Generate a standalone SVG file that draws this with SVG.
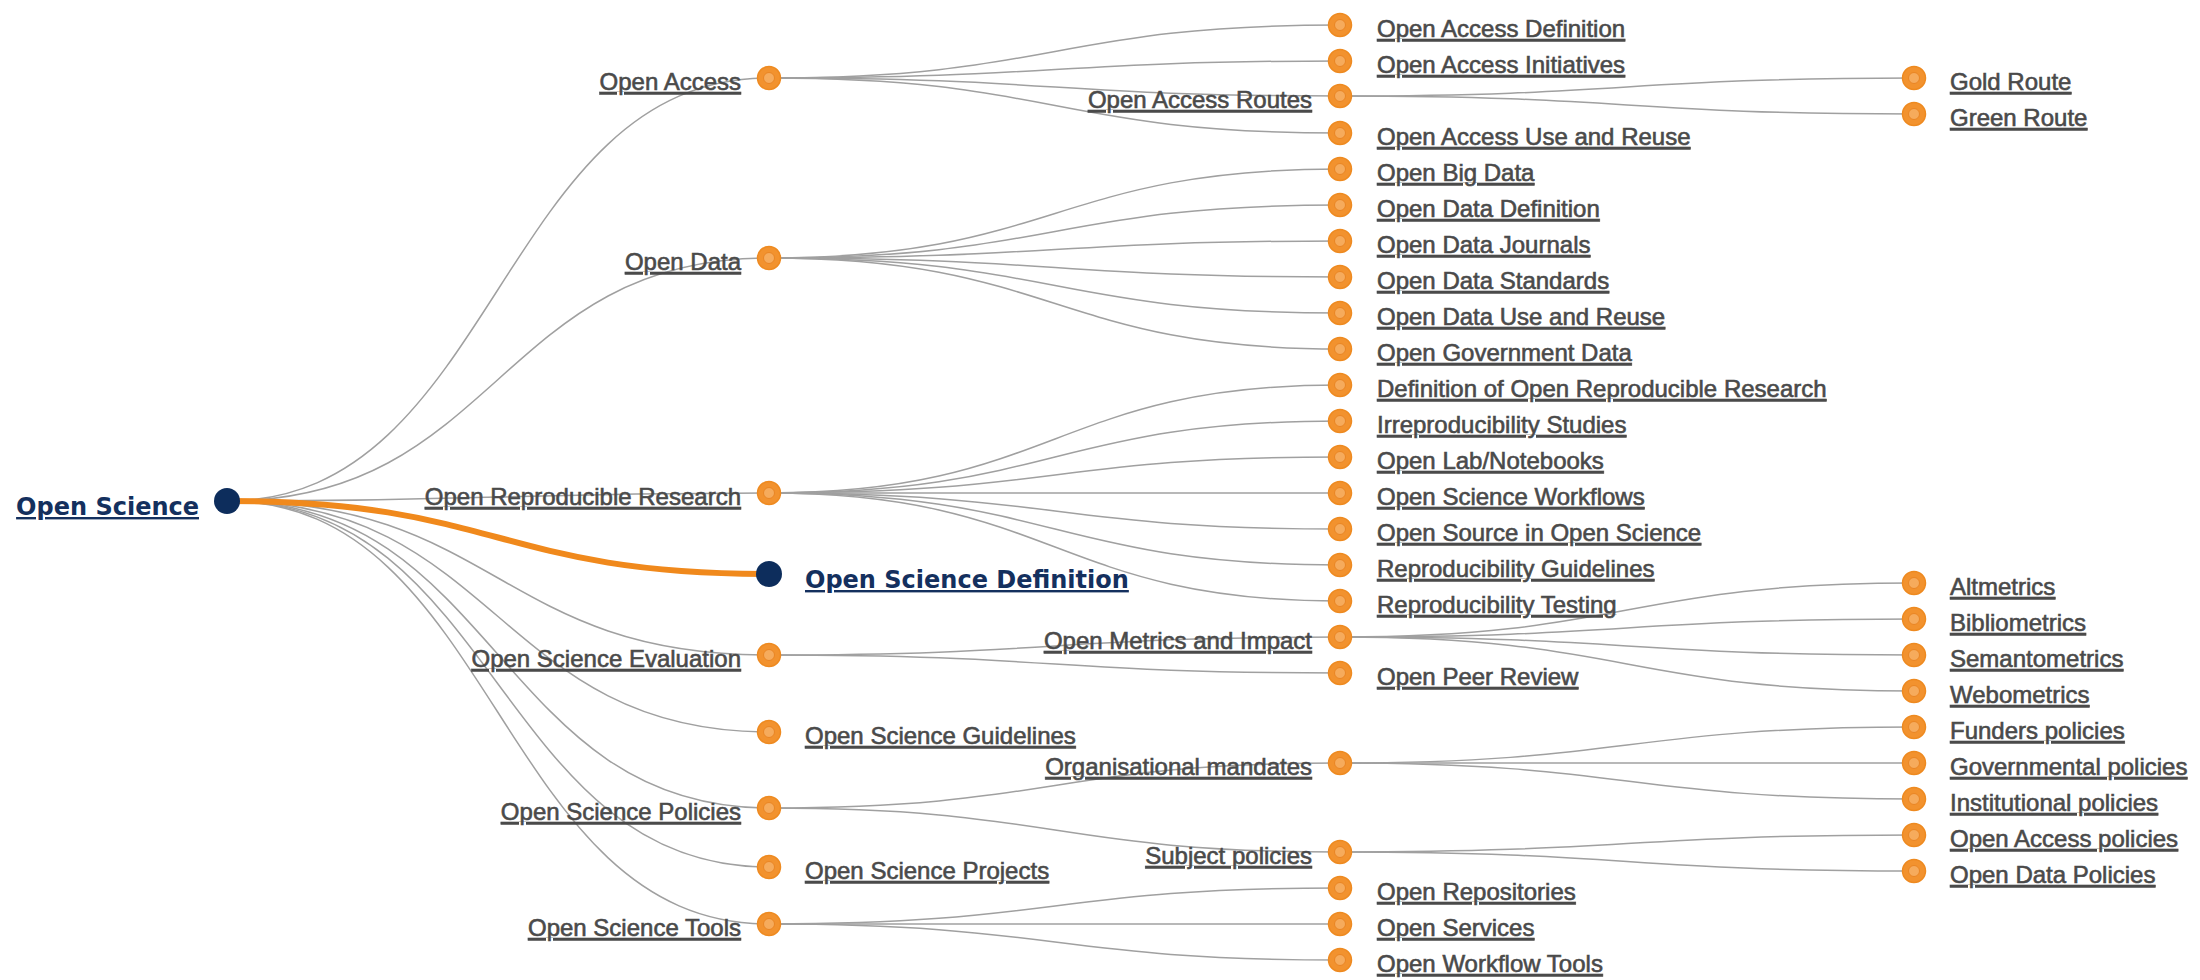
<svg xmlns="http://www.w3.org/2000/svg" width="2200" height="980" viewBox="0 0 2200 980">
<style>
.link{fill:none;stroke:#a0a0a0;stroke-width:1.5}
.hl{fill:none;stroke:#f0891c;stroke-width:6}
.lbl{font-family:"Liberation Sans",Arial,sans-serif;font-size:24px;fill:#4a4a4a;stroke:#4a4a4a;stroke-width:0.6;text-decoration:underline}
.main{font-family:"DejaVu Sans",Verdana,sans-serif;font-size:24px;font-weight:bold;fill:#14305e;text-decoration:underline}
.l{text-anchor:end}
.dot{fill:#0d2d5c}
.o1{fill:#f2922e;stroke:#ee8a20;stroke-width:1.5}
.o2{fill:#f6ab5c;stroke:#ea8524;stroke-width:1}
</style>
<defs>
<g id="od"><circle r="11.5" class="o1"/><circle r="5.5" class="o2"/></g>
</defs>
<rect width="2200" height="980" fill="#fff"/>
<g id="connectors">
<path class="link" d="M227,501 C498,501 498,78 769,78"/>
<path class="link" d="M227,501 C498,501 498,258 769,258"/>
<path class="link" d="M227,501 C498,501 498,493 769,493"/>
<path class="link" d="M227,501 C498,501 498,655 769,655"/>
<path class="link" d="M227,501 C498,501 498,732 769,732"/>
<path class="link" d="M227,501 C498,501 498,808 769,808"/>
<path class="link" d="M227,501 C498,501 498,867 769,867"/>
<path class="link" d="M227,501 C498,501 498,924 769,924"/>
<path class="link" d="M769,78 C1055,78 1055,25 1340,25"/>
<path class="link" d="M769,78 C1055,78 1055,61 1340,61"/>
<path class="link" d="M769,78 C1055,78 1055,96 1340,96"/>
<path class="link" d="M769,78 C1055,78 1055,133 1340,133"/>
<path class="link" d="M1340,96 C1627,96 1627,78 1914,78"/>
<path class="link" d="M1340,96 C1627,96 1627,114 1914,114"/>
<path class="link" d="M769,258 C1055,258 1055,169 1340,169"/>
<path class="link" d="M769,258 C1055,258 1055,205 1340,205"/>
<path class="link" d="M769,258 C1055,258 1055,241 1340,241"/>
<path class="link" d="M769,258 C1055,258 1055,277 1340,277"/>
<path class="link" d="M769,258 C1055,258 1055,313 1340,313"/>
<path class="link" d="M769,258 C1055,258 1055,349 1340,349"/>
<path class="link" d="M769,493 C1055,493 1055,385 1340,385"/>
<path class="link" d="M769,493 C1055,493 1055,421 1340,421"/>
<path class="link" d="M769,493 C1055,493 1055,457 1340,457"/>
<path class="link" d="M769,493 C1055,493 1055,493 1340,493"/>
<path class="link" d="M769,493 C1055,493 1055,529 1340,529"/>
<path class="link" d="M769,493 C1055,493 1055,565 1340,565"/>
<path class="link" d="M769,493 C1055,493 1055,601 1340,601"/>
<path class="link" d="M769,655 C1055,655 1055,637 1340,637"/>
<path class="link" d="M769,655 C1055,655 1055,673 1340,673"/>
<path class="link" d="M1340,637 C1627,637 1627,583 1914,583"/>
<path class="link" d="M1340,637 C1627,637 1627,619 1914,619"/>
<path class="link" d="M1340,637 C1627,637 1627,655 1914,655"/>
<path class="link" d="M1340,637 C1627,637 1627,691 1914,691"/>
<path class="link" d="M769,808 C1055,808 1055,763 1340,763"/>
<path class="link" d="M769,808 C1055,808 1055,852 1340,852"/>
<path class="link" d="M1340,763 C1627,763 1627,727 1914,727"/>
<path class="link" d="M1340,763 C1627,763 1627,763 1914,763"/>
<path class="link" d="M1340,763 C1627,763 1627,799 1914,799"/>
<path class="link" d="M1340,852 C1627,852 1627,835 1914,835"/>
<path class="link" d="M1340,852 C1627,852 1627,871 1914,871"/>
<path class="link" d="M769,924 C1055,924 1055,888 1340,888"/>
<path class="link" d="M769,924 C1055,924 1055,924 1340,924"/>
<path class="link" d="M769,924 C1055,924 1055,960 1340,960"/>
<path class="hl" d="M227,501 C498,501 498,574 769,574"/>
</g>
<g id="n-open-science"><circle class="dot" cx="227" cy="501" r="13"/><text class="main l" x="199" y="515">Open Science</text></g>
<g id="n-open-access"><use href="#od" x="769" y="78"/><text class="lbl l" x="741" y="90">Open Access</text></g>
<g id="n-open-data"><use href="#od" x="769" y="258"/><text class="lbl l" x="741" y="270">Open Data</text></g>
<g id="n-orr"><use href="#od" x="769" y="493"/><text class="lbl l" x="741" y="505">Open Reproducible Research</text></g>
<g id="n-osd"><circle class="dot" cx="769" cy="574" r="13"/><text class="main" x="805" y="588">Open Science Definition</text></g>
<g id="n-ose"><use href="#od" x="769" y="655"/><text class="lbl l" x="741" y="667">Open Science Evaluation</text></g>
<g id="n-osg"><use href="#od" x="769" y="732"/><text class="lbl" x="805" y="744">Open Science Guidelines</text></g>
<g id="n-osp"><use href="#od" x="769" y="808"/><text class="lbl l" x="741" y="820">Open Science Policies</text></g>
<g id="n-ospr"><use href="#od" x="769" y="867"/><text class="lbl" x="805" y="879">Open Science Projects</text></g>
<g id="n-ost"><use href="#od" x="769" y="924"/><text class="lbl l" x="741" y="936">Open Science Tools</text></g>
<g id="n-oad"><use href="#od" x="1340" y="25"/><text class="lbl" x="1377" y="37">Open Access Definition</text></g>
<g id="n-oai"><use href="#od" x="1340" y="61"/><text class="lbl" x="1377" y="73">Open Access Initiatives</text></g>
<g id="n-oar"><use href="#od" x="1340" y="96"/><text class="lbl l" x="1312" y="108">Open Access Routes</text></g>
<g id="n-oau"><use href="#od" x="1340" y="133"/><text class="lbl" x="1377" y="145">Open Access Use and Reuse</text></g>
<g id="n-obd"><use href="#od" x="1340" y="169"/><text class="lbl" x="1377" y="181">Open Big Data</text></g>
<g id="n-odd"><use href="#od" x="1340" y="205"/><text class="lbl" x="1377" y="217">Open Data Definition</text></g>
<g id="n-odj"><use href="#od" x="1340" y="241"/><text class="lbl" x="1377" y="253">Open Data Journals</text></g>
<g id="n-ods"><use href="#od" x="1340" y="277"/><text class="lbl" x="1377" y="289">Open Data Standards</text></g>
<g id="n-odu"><use href="#od" x="1340" y="313"/><text class="lbl" x="1377" y="325">Open Data Use and Reuse</text></g>
<g id="n-ogd"><use href="#od" x="1340" y="349"/><text class="lbl" x="1377" y="361">Open Government Data</text></g>
<g id="n-dorr"><use href="#od" x="1340" y="385"/><text class="lbl" x="1377" y="397">Definition of Open Reproducible Research</text></g>
<g id="n-irs"><use href="#od" x="1340" y="421"/><text class="lbl" x="1377" y="433">Irreproducibility Studies</text></g>
<g id="n-oln"><use href="#od" x="1340" y="457"/><text class="lbl" x="1377" y="469">Open Lab/Notebooks</text></g>
<g id="n-osw"><use href="#od" x="1340" y="493"/><text class="lbl" x="1377" y="505">Open Science Workflows</text></g>
<g id="n-osos"><use href="#od" x="1340" y="529"/><text class="lbl" x="1377" y="541">Open Source in Open Science</text></g>
<g id="n-rg"><use href="#od" x="1340" y="565"/><text class="lbl" x="1377" y="577">Reproducibility Guidelines</text></g>
<g id="n-rt"><use href="#od" x="1340" y="601"/><text class="lbl" x="1377" y="613">Reproducibility Testing</text></g>
<g id="n-omi"><use href="#od" x="1340" y="637"/><text class="lbl l" x="1312" y="649">Open Metrics and Impact</text></g>
<g id="n-opr"><use href="#od" x="1340" y="673"/><text class="lbl" x="1377" y="685">Open Peer Review</text></g>
<g id="n-om"><use href="#od" x="1340" y="763"/><text class="lbl l" x="1312" y="775">Organisational mandates</text></g>
<g id="n-sp"><use href="#od" x="1340" y="852"/><text class="lbl l" x="1312" y="864">Subject policies</text></g>
<g id="n-orep"><use href="#od" x="1340" y="888"/><text class="lbl" x="1377" y="900">Open Repositories</text></g>
<g id="n-oser"><use href="#od" x="1340" y="924"/><text class="lbl" x="1377" y="936">Open Services</text></g>
<g id="n-owt"><use href="#od" x="1340" y="960"/><text class="lbl" x="1377" y="972">Open Workflow Tools</text></g>
<g id="n-gold"><use href="#od" x="1914" y="78"/><text class="lbl" x="1950" y="90">Gold Route</text></g>
<g id="n-green"><use href="#od" x="1914" y="114"/><text class="lbl" x="1950" y="126">Green Route</text></g>
<g id="n-alt"><use href="#od" x="1914" y="583"/><text class="lbl" x="1950" y="595">Altmetrics</text></g>
<g id="n-bib"><use href="#od" x="1914" y="619"/><text class="lbl" x="1950" y="631">Bibliometrics</text></g>
<g id="n-sem"><use href="#od" x="1914" y="655"/><text class="lbl" x="1950" y="667">Semantometrics</text></g>
<g id="n-web"><use href="#od" x="1914" y="691"/><text class="lbl" x="1950" y="703">Webometrics</text></g>
<g id="n-fund"><use href="#od" x="1914" y="727"/><text class="lbl" x="1950" y="739">Funders policies</text></g>
<g id="n-gov"><use href="#od" x="1914" y="763"/><text class="lbl" x="1950" y="775">Governmental policies</text></g>
<g id="n-inst"><use href="#od" x="1914" y="799"/><text class="lbl" x="1950" y="811">Institutional policies</text></g>
<g id="n-oap"><use href="#od" x="1914" y="835"/><text class="lbl" x="1950" y="847">Open Access policies</text></g>
<g id="n-odp"><use href="#od" x="1914" y="871"/><text class="lbl" x="1950" y="883">Open Data Policies</text></g>
</svg>
